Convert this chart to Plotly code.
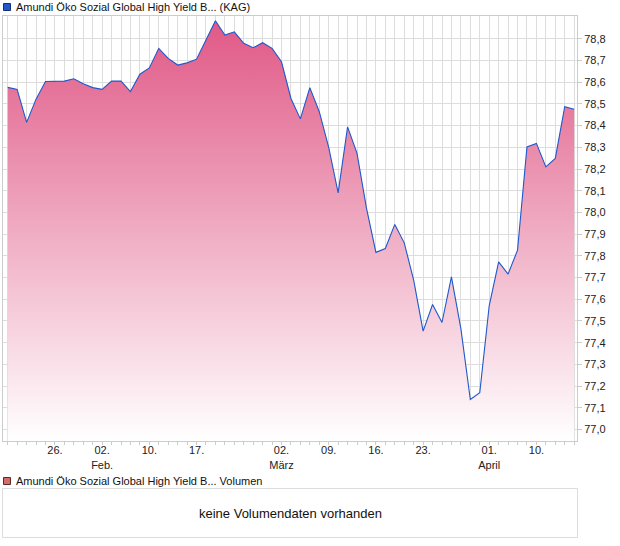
import plotly.graph_objects as go

# ---- data ----
dates = [
    "2026-01-19", "2026-01-20", "2026-01-21", "2026-01-22", "2026-01-23",
    "2026-01-26", "2026-01-27", "2026-01-28", "2026-01-29", "2026-01-30",
    "2026-02-02", "2026-02-03", "2026-02-04", "2026-02-05", "2026-02-06",
    "2026-02-10", "2026-02-11", "2026-02-12", "2026-02-13", "2026-02-16",
    "2026-02-17", "2026-02-18", "2026-02-19", "2026-02-20", "2026-02-23",
    "2026-02-24", "2026-02-25", "2026-02-26", "2026-02-27", "2026-03-02",
    "2026-03-03", "2026-03-04", "2026-03-05", "2026-03-06", "2026-03-09",
    "2026-03-10", "2026-03-11", "2026-03-12", "2026-03-13", "2026-03-16",
    "2026-03-17", "2026-03-18", "2026-03-19", "2026-03-20", "2026-03-23",
    "2026-03-24", "2026-03-25", "2026-03-26", "2026-03-27", "2026-03-30",
    "2026-03-31", "2026-04-01", "2026-04-02", "2026-04-07", "2026-04-08",
    "2026-04-09", "2026-04-10", "2026-04-13", "2026-04-14", "2026-04-15",
    "2026-04-16",
]
prices = [
    78.576, 78.567, 78.415, 78.522, 78.603,
    78.605, 78.605, 78.616, 78.593, 78.575,
    78.567, 78.605, 78.605, 78.557, 78.637,
    78.666, 78.756, 78.710, 78.679, 78.689,
    78.706, 78.794, 78.883, 78.817, 78.832,
    78.779, 78.759, 78.782, 78.756, 78.694,
    78.525, 78.431, 78.575, 78.464, 78.300,
    78.090, 78.394, 78.272, 78.020, 77.816,
    77.834, 77.945, 77.860, 77.688, 77.453,
    77.576, 77.493, 77.703, 77.465, 77.138,
    77.169, 77.570, 77.772, 77.716, 77.826,
    78.302, 78.318, 78.210, 78.249, 78.487,
    78.475,
]
x_tick_labels = {
    "2026-01-26": "26.",
    "2026-02-02": "02.<br>Feb.",
    "2026-02-10": "10.",
    "2026-02-17": "17.",
    "2026-03-02": "02.<br>März",
    "2026-03-09": "09.",
    "2026-03-16": "16.",
    "2026-03-23": "23.",
    "2026-04-01": "01.<br>April",
    "2026-04-10": "10.",
}
y_ticks = [77.0, 77.1, 77.2, 77.3, 77.4, 77.5, 77.6, 77.7, 77.8, 77.9,
           78.0, 78.1, 78.2, 78.3, 78.4, 78.5, 78.6, 78.7, 78.8]
series_name = "Amundi Öko Sozial Global High Yield B... (KAG)"
volume_name = "Amundi Öko Sozial Global High Yield B... Volumen"
volume_msg = "keine Volumendaten vorhanden"

# ---- figure ----
W, H = 620, 546
ML, MR, MT, MB = 3, 43, 16, 105
y_lo, y_hi = 76.947, 78.905

FONT = "Arial, Liberation Sans, sans-serif"

fig = go.Figure()
fig.add_trace(go.Scatter(
    x=dates, y=prices, mode="lines",
    line=dict(color="#1f58cc", width=1.1),
    fill="tozeroy",
    fillgradient=dict(
        type="vertical",
        start=y_lo, stop=78.89,
        colorscale=[[0, "rgb(255,255,255)"], [1, "rgb(224,88,134)"]],
    ),
    hoverinfo="skip",
    showlegend=False,
))

ticktext = [x_tick_labels.get(d, "") for d in dates]

plot_h = H - MT - MB


def py(pixel_y):
    return (H - MB - pixel_y) / plot_h


def px(pixel_x):
    return (pixel_x - ML) / (W - ML - MR)


shapes = [
    dict(type="rect", xref="paper", yref="paper",
         x0=px(3.5), x1=px(10.5), y0=py(10.5), y1=py(3.5),
         fillcolor="#1f58cc", line=dict(color="#1a2f70", width=1)),
    dict(type="rect", xref="paper", yref="paper",
         x0=px(3.5), x1=px(10.5), y0=py(484.5), y1=py(477.5),
         fillcolor="#d46a6a", line=dict(color="#5a2a2a", width=1)),
    dict(type="rect", xref="paper", yref="paper",
         x0=px(2.5), x1=px(577.5), y0=py(537.5), y1=py(488.5),
         fillcolor="rgba(0,0,0,0)", line=dict(color="#dcdcdc", width=1)),
]

annotations = [
    dict(text=series_name, xref="paper", yref="paper",
         x=px(14), y=py(7), xanchor="left", yanchor="middle",
         showarrow=False, font=dict(family=FONT, size=11, color="#111")),
    dict(text=volume_name, xref="paper", yref="paper",
         x=px(14), y=py(481), xanchor="left", yanchor="middle",
         showarrow=False, font=dict(family=FONT, size=11, color="#111")),
    dict(text=volume_msg, xref="paper", yref="paper",
         x=px(290), y=py(513.5), xanchor="center", yanchor="middle",
         showarrow=False, font=dict(family=FONT, size=13, color="#111")),
]

fig.update_layout(
    width=W, height=H,
    margin=dict(l=ML, r=MR, t=MT, b=MB, pad=0, autoexpand=False),
    paper_bgcolor="white", plot_bgcolor="white",
    separators=",.",
    font=dict(family=FONT, size=11, color="#222"),
    shapes=shapes, annotations=annotations,
    showlegend=False,
)
fig.update_xaxes(
    type="category", automargin=False,
    range=[-0.5, 60.3],
    tickmode="array", tickvals=dates, ticktext=ticktext,
    tickangle=0,
    ticklabelstandoff=-4,
    showgrid=True, gridcolor="#dddddd", gridwidth=1,
    showline=True, linecolor="#cccccc", linewidth=1, mirror=True,
    ticks="outside", ticklen=3, tickcolor="#cccccc",
    tickfont=dict(family=FONT, size=11, color="#222"),
    zeroline=False,
)
fig.update_yaxes(
    side="right", automargin=False,
    range=[y_lo, y_hi],
    tickmode="array", tickvals=y_ticks, tickformat=".1f",
    showgrid=True, gridcolor="#dddddd", gridwidth=1,
    showline=True, linecolor="#cccccc", linewidth=1, mirror=True,
    ticks="outside", ticklen=4, tickcolor="#cccccc",
    tickfont=dict(family=FONT, size=11, color="#222"),
    zeroline=False,
)

fig.write_html(
    "out.html",
    config={"displayModeBar": False},
    post_script="document.body.style.margin='0';document.body.style.padding='0';",
)
